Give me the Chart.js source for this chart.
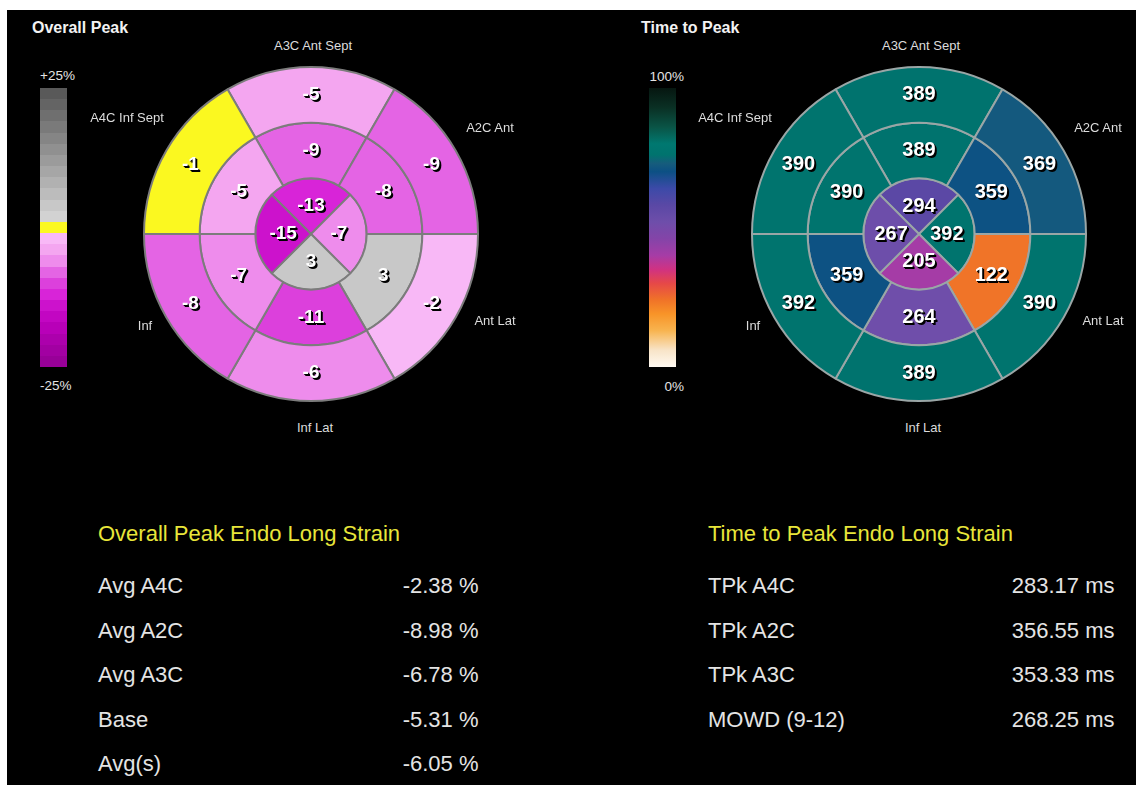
<!DOCTYPE html>
<html>
<head>
<meta charset="utf-8">
<title>Endo Long Strain bullseye</title>
<script src="https://cdn.jsdelivr.net/npm/chart.js@4.4.1/dist/chart.umd.min.js"></script>
<style>
html, body { margin: 0; padding: 0; background: #fff; }
body { width: 1136px; height: 785px; position: relative; overflow: hidden; font-family: "Liberation Sans", Arial, sans-serif; }
#panel { position: absolute; left: 7px; top: 10px; width: 1129px; height: 775px; background: #000; }
.t { position: absolute; white-space: nowrap; line-height: 1; color: #e4e4e4; }
canvas { position: absolute; }
.bar { position: absolute; width: 27px; height: 279px; top: 88px; }
</style>
</head>
<body>
<div id="panel"></div>
<canvas id="strainChart" width="336" height="336" style="left:143px;top:66px"></canvas>
<canvas id="ttpChart" width="336" height="336" style="left:751px;top:66px"></canvas>
<div id="strainBar" class="bar" style="left:40px"></div>
<div id="ttpBar" class="bar" style="left:649px"></div>
<script>
// segments go clockwise, starting with the top one of each ring
const wallLabels = ['A3C Ant Sept', 'A2C Ant', 'Ant Lat', 'Inf Lat', 'Inf', 'A4C Inf Sept'];

const strainOuter = [-5, -9, -2, -6, -8, -1];
const strainMid = [-9, -8, 3, -11, -7, -5];
const strainInner = [-13, -7, 3, -15];

const ttpOuter = [389, 369, 390, 389, 392, 390];
const ttpMid = [389, 359, 122, 264, 359, 390];
const ttpInner = [294, 392, 205, 267];

const strainScale = ['+25%', '-25%'];
const ttpScale = ['100%', '0%'];
const ttpMax = 510; // ms at the top of the colour bar

const strainRows = ['Avg A4C', 'Avg A2C', 'Avg A3C', 'Base', 'Avg(s)'];
const strainAvgs = [-2.38, -8.98, -6.78, -5.31, -6.05];
const ttpRows = ['TPk A4C', 'TPk A2C', 'TPk A3C', 'MOWD (9-12)'];
const ttpAvgs = [283.17, 356.55, 353.33, 268.25];

// colour maps
const zeroBand = '#fbf820';
const grayBands = ['#d2d2d2', '#c8c8c8', '#bcbcbc', '#b1b1b1', '#a6a6a6', '#9b9b9b',
    '#909090', '#858585', '#7a7a7a', '#6f6f6f', '#646464', '#595959'];
const pinkBands = ['#f8b8f6', '#f4a6f0', '#ee8cec', '#e464e4', '#dc40dc', '#d824d8',
    '#cc12cc', '#c206c2', '#b800b8', '#ac00ac', '#a200a2', '#980098'];

const ttpStops = [
    [0.00, '#fffaf2'], [0.06, '#f8e4c8'], [0.13, '#f8b450'], [0.19, '#f89428'],
    [0.24, '#f07328'], [0.30, '#e64848'], [0.35, '#d03282'], [0.40, '#a63ca6'],
    [0.46, '#8444a8'], [0.52, '#6e4eaa'], [0.58, '#5a48a5'], [0.64, '#3c4aa8'],
    [0.70, '#0c5084'], [0.73, '#165c7c'], [0.76, '#00736e'], [0.80, '#007870'],
    [0.86, '#0a5446'], [0.93, '#0a3024'], [1.00, '#061610']
];

function strainColor(v) {
    const b = Math.round(v / 2);
    if (b === 0) return zeroBand;
    if (b > 0) return grayBands[Math.min(b, 12) - 1];
    return pinkBands[Math.min(-b, 12) - 1];
}

function hex(c) {
    return [1, 3, 5].map(i => parseInt(c.substr(i, 2), 16));
}

function ttpColor(v) {
    const t = Math.max(0, Math.min(1, v / ttpMax));
    for (let i = 1; i < ttpStops.length; i++) {
        const [t1, c1] = ttpStops[i];
        const [t0, c0] = ttpStops[i - 1];
        if (t <= t1) {
            const f = (t - t0) / (t1 - t0);
            const a = hex(c0), b = hex(c1);
            const rgb = a.map((x, k) => Math.round(x + (b[k] - x) * f));
            return 'rgb(' + rgb.join(',') + ')';
        }
    }
    return ttpStops[ttpStops.length - 1][1];
}

// colour bars
let bands = [];
for (let b = 12; b >= -12; b--) bands.push(strainColor(b * 2));
let stops = bands.map((c, i) => c + ' ' + (i * 4) + '% ' + ((i + 1) * 4) + '%');
document.getElementById('strainBar').style.background = 'linear-gradient(to bottom, ' + stops.join(', ') + ')';
document.getElementById('ttpBar').style.background = 'linear-gradient(to top, ' +
    ttpStops.map(s => s[1] + ' ' + (s[0] * 100) + '%').join(', ') + ')';

// text helper, y is the baseline
function addText(txt, x, y, size, align, extra) {
    const el = document.createElement('div');
    el.className = 't';
    el.textContent = txt;
    el.style.fontSize = size + 'px';
    el.style.left = x + 'px';
    el.style.top = (y - 0.8465 * size) + 'px';
    if (align === 'center') el.style.transform = 'translateX(-50%)';
    if (align === 'right') el.style.transform = 'translateX(-100%)';
    if (extra) Object.assign(el.style, extra);
    document.body.appendChild(el);
}

addText('Overall Peak', 32, 33.5, 16, 'left', {fontWeight: 'bold', color: '#f2f2f2'});
addText('Time to Peak', 641, 33.5, 16, 'left', {fontWeight: 'bold', color: '#f2f2f2'});

addText(strainScale[0], 40, 80.5, 13.5, 'left');
addText(strainScale[1], 40, 390, 13.5, 'left');
addText(ttpScale[0], 684, 81, 13.5, 'right');
addText(ttpScale[1], 684, 391.5, 13.5, 'right');

const labelOffsets = [[2, -189], [179, -107], [184, 86], [4, 193], [-166, 91], [-184, -117]];
[311, 919].forEach(cx => {
    wallLabels.forEach((name, i) => {
        addText(name, cx + labelOffsets[i][0], 234 + labelOffsets[i][1] + 4.7, 13, 'center', {color: '#dcdcdc'});
    });
});

const rowBase = [593.5, 638.3, 683, 727.3, 772];
addText('Overall Peak Endo Long Strain', 98, 541.7, 22, 'left', {color: '#e8e63a'});
strainRows.forEach((r, i) => {
    addText(r, 98, rowBase[i], 22, 'left');
    addText(strainAvgs[i].toFixed(2) + ' %', 478.5, rowBase[i], 22, 'right');
});
addText('Time to Peak Endo Long Strain', 708, 541.7, 22, 'left', {color: '#e8e63a'});
ttpRows.forEach((r, i) => {
    addText(r, 708, rowBase[i], 22, 'left');
    addText(ttpAvgs[i].toFixed(2) + ' ms', 1114.5, rowBase[i], 22, 'right');
});

// value labels in the middle of every segment
const valueLabels = {
    id: 'valueLabels',
    afterDatasetsDraw(chart, args, opts) {
        const ctx = chart.ctx;
        ctx.save();
        ctx.font = opts.font;
        ctx.textAlign = 'center';
        ctx.textBaseline = 'middle';
        chart.data.datasets.forEach((ds, i) => {
            chart.getDatasetMeta(i).data.forEach((arc, j) => {
                const p = arc.getCenterPoint();
                const txt = String(ds.values[j]);
                ctx.fillStyle = '#000';
                ctx.fillText(txt, p.x + 1, p.y + 1);
                ctx.fillText(txt, p.x + 2, p.y + 2);
                ctx.fillStyle = '#fff';
                ctx.fillText(txt, p.x, p.y);
            });
        });
        ctx.restore();
    }
};

function ring(values, rotation, colorFn, border) {
    return {
        data: values.map(() => 1),
        values: values,
        rotation: rotation,
        backgroundColor: values.map(colorFn),
        borderColor: border,
        borderWidth: 2,
        hoverOffset: 0
    };
}

function bullseye(id, outer, mid, inner, colorFn, border, font) {
    return new Chart(document.getElementById(id), {
        type: 'doughnut',
        data: {
            labels: wallLabels,
            datasets: [
                ring(outer, -30, colorFn, border),
                ring(mid, -30, colorFn, border),
                ring(inner, -45, colorFn, border)
            ]
        },
        options: {
            responsive: false,
            animation: false,
            devicePixelRatio: 1,
            cutout: 0,
            events: [],
            layout: { padding: 0 },
            plugins: {
                legend: { display: false },
                tooltip: { enabled: false },
                valueLabels: { font: font }
            }
        },
        plugins: [valueLabels]
    });
}

bullseye('strainChart', strainOuter, strainMid, strainInner, strainColor, '#7c7c7c',
    'bold 19px "Liberation Sans", Arial, sans-serif');
bullseye('ttpChart', ttpOuter, ttpMid, ttpInner, ttpColor, '#9aa6a6',
    'bold 20px "Liberation Sans", Arial, sans-serif');
</script>
</body>
</html>
